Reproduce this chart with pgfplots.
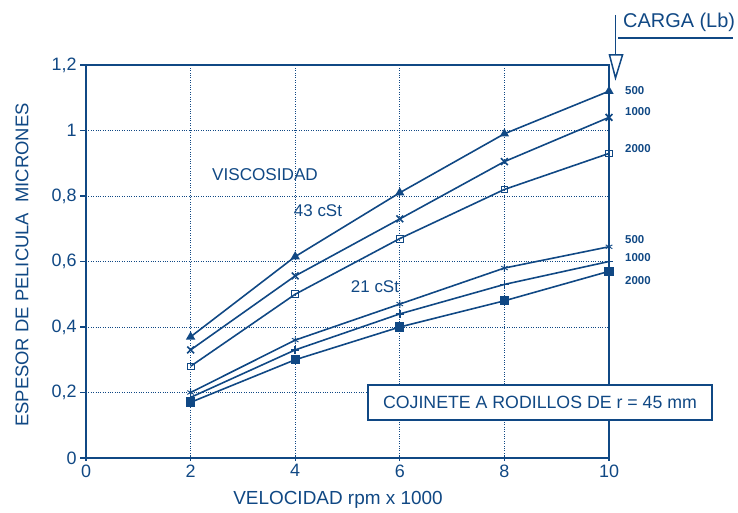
\documentclass[border=0pt]{standalone}
\usepackage{pgfplots}
\pgfplotsset{compat=1.18}
\usepackage{fontspec}
\setmainfont{Liberation Sans}
\definecolor{ink}{RGB}{16,72,132}
\begin{document}
\begin{tikzpicture}[x=1bp,y=1bp]
\begin{axis}[
  at={(0,0)}, anchor=south west,
  scale only axis, width=523bp, height=393bp,
  xmin=0, xmax=10, ymin=0, ymax=1.2,
  xtick={0,2,4,6,8,10}, ytick={0,0.2,0.4,0.6,0.8,1,1.2},
  /pgf/number format/assume math mode=true,
  /pgf/number format/use comma,
  ticklabel style={font=\fontsize{18}{20}\selectfont, text=ink},
  axis line style={ink, line width=1.8pt},
  every tick/.style={ink, line width=1.3pt},
  major tick length=6bp,
  xtick align=center, ytick align=outside,
  xtick pos=bottom, ytick pos=left,
  grid=major,
  major grid style={ink, dotted, line width=0.9pt},
  clip=false,
  every axis plot/.append style={ink, line width=1.6pt},
]
% 43 cSt
\addplot[mark=triangle*, mark size=3.8pt, mark options={fill=ink}] coordinates {(2,0.37) (4,0.615) (6,0.81) (8,0.99) (10,1.12)};
\addplot[mark=x, mark size=4.8pt] coordinates {(2,0.33) (4,0.556) (6,0.73) (8,0.905) (10,1.04)};
\addplot[mark=square, mark size=3.4pt, mark options={fill=white, line width=0.8pt}] coordinates {(2,0.28) (4,0.50) (6,0.67) (8,0.82) (10,0.93)};
% 21 cSt
\addplot[mark=asterisk, mark size=3.8pt, mark options={line width=0.9pt}] coordinates {(2,0.20) (4,0.36) (6,0.47) (8,0.58) (10,0.645)};
\addplot[mark=+, mark size=4.2pt] coordinates {(2,0.185) (4,0.33) (6,0.44) (8,0.53) (10,0.60)};
\addplot[mark=square*, mark size=3.8pt, mark options={fill=ink}] coordinates {(2,0.17) (4,0.30) (6,0.40) (8,0.48) (10,0.57)};
\end{axis}
\begin{scope}[every node/.style={text=ink, inner sep=0pt}]
\node[rotate=90, font=\fontsize{18.5}{20}\selectfont] at (-64,193) {ESPESOR DE PELICULA\ \ MICRONES};
\node[font=\fontsize{19}{21}\selectfont] at (252,-42) {VELOCIDAD rpm x 1000};
\node[font=\fontsize{17.2}{19}\selectfont] at (179,283) {VISCOSIDAD};
\node[font=\fontsize{17}{19}\selectfont] at (232,247) {43 cSt};
\node[font=\fontsize{17}{19}\selectfont] at (289,171) {21 cSt};
\node[font=\bfseries\fontsize{11.5}{12}\selectfont, anchor=west] at (539,367) {500};
\node[font=\bfseries\fontsize{11.5}{12}\selectfont, anchor=west] at (539,346) {1000};
\node[font=\bfseries\fontsize{11.5}{12}\selectfont, anchor=west] at (539,309) {2000};
\node[font=\bfseries\fontsize{11.5}{12}\selectfont, anchor=west] at (539,218) {500};
\node[font=\bfseries\fontsize{11.5}{12}\selectfont, anchor=west] at (539,200) {1000};
\node[font=\bfseries\fontsize{11.5}{12}\selectfont, anchor=west] at (539,177) {2000};
\draw[ink, line width=1.5pt, fill=white] (282,38) rectangle (626,73);
\node[font=\fontsize{17.8}{19}\selectfont] at (454,55.5) {COJINETE A RODILLOS DE r = 45 mm};
\draw[ink, line width=1.5pt] (529.5,443) -- (529.5,403);
\draw[ink, line width=1.5pt, fill=white] (523.5,403) -- (536.5,403) -- (529.5,380) -- cycle;
\draw[ink, line width=1.3pt] (532,420) -- (647,420);
\node[font=\fontsize{20}{22}\selectfont, anchor=west] at (537,436) {CARGA (Lb)};
\end{scope}
\pgfresetboundingbox
\useasboundingbox (-86,-55) rectangle (652,458);
\end{tikzpicture}
\end{document}
